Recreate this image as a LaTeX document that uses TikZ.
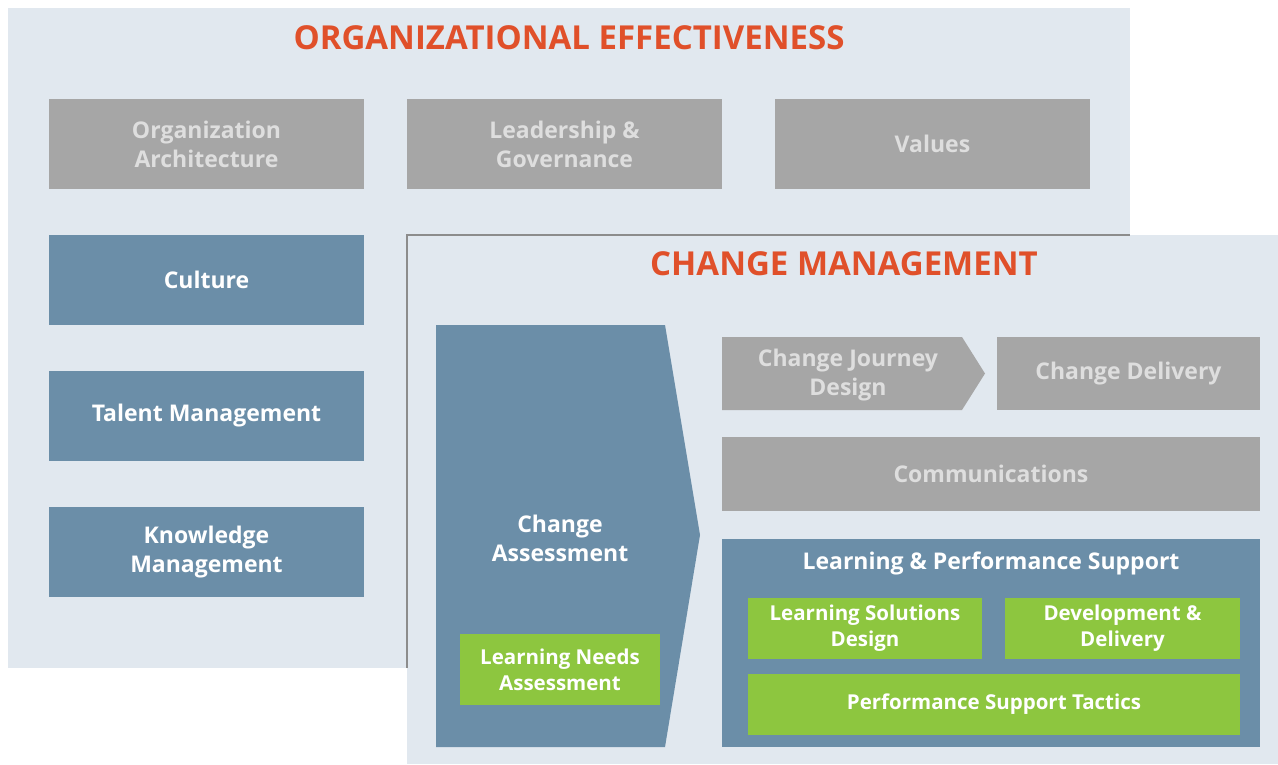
\documentclass[tikz,border=0pt]{standalone}
\usepackage{fontspec}
\setmainfont{Open Sans}
\usepackage{xcolor}
\usepackage{tikz}
\definecolor{panelbg}{RGB}{225,232,239}
\definecolor{boxgray}{RGB}{166,166,166}
\definecolor{txtgray}{RGB}{222,222,222}
\definecolor{boxblue}{RGB}{107,142,168}
\definecolor{boxgreen}{RGB}{141,198,63}
\definecolor{titleorange}{RGB}{224,80,42}
\definecolor{edgegray}{RGB}{140,140,140}

\begin{document}
\begin{tikzpicture}[x=1pt,y=-1pt,
  graybox/.style={fill=boxgray,text=txtgray,font=\fontsize{23}{29}\selectfont\bfseries,align=center,inner sep=0pt},
  bluebox/.style={fill=boxblue,text=white,font=\fontsize{23}{29}\selectfont\bfseries,align=center,inner sep=0pt},
  greenbox/.style={fill=boxgreen,text=white,font=\fontsize{20.5}{26}\selectfont\bfseries,align=center,inner sep=0pt},
  paneltitle/.style={text=titleorange,font=\fontsize{33}{38}\selectfont\bfseries}]
\useasboundingbox (0,0) rectangle (1278,764);
% panels
\fill[panelbg](8,8)rectangle(1130,668);
\fill[panelbg](407,235)rectangle(1278,764);
\draw[edgegray,line width=2pt](407,668)--(407,235)--(1130,235);
\node[paneltitle](oetitle)at(569,38){ORGANIZATIONAL EFFECTIVENESS};
\node[paneltitle](cmtitle)at(844,264){CHANGE MANAGEMENT};
% organizational effectiveness boxes
\node[graybox,minimum width=315pt,minimum height=90pt](orgarch)at(206.5,144){Organization\\Architecture};
\node[graybox,minimum width=315pt,minimum height=90pt](leader)at(564.5,144){Leadership \&\\Governance};
\node[graybox,minimum width=315pt,minimum height=90pt](values)at(932.5,144){Values};
\node[bluebox,minimum width=315pt,minimum height=90pt](culture)at(206.5,280){Culture};
\node[bluebox,minimum width=315pt,minimum height=90pt](talent)at(206.5,416){Talent Management};
\node[bluebox,minimum width=315pt,minimum height=90pt](knowledge)at(206.5,552){Knowledge\\Management};
% change management
\coordinate(Ca)at(436,325);\coordinate(Cb)at(665,325);\coordinate(Cc)at(700,535);\coordinate(Cd)at(665,747);\coordinate(Ce)at(436,747);
\fill[boxblue](Ca)--(Cb)--(Cc)--(Cd)--(Ce)--cycle;
\node[text=white,font=\fontsize{23}{29}\selectfont\bfseries,align=center](assess)at(560,538){Change\\Assessment};
\node[greenbox,minimum width=200pt,minimum height=71pt](lna)at(560,669.5){Learning Needs\\Assessment};
\coordinate(Ja)at(722,337);\coordinate(Jb)at(962,337);\coordinate(Jc)at(985,373.5);\coordinate(Jd)at(962,410);\coordinate(Je)at(722,410);
\fill[boxgray](Ja)--(Jb)--(Jc)--(Jd)--(Je)--cycle;
\node[text=txtgray,font=\fontsize{23}{29}\selectfont\bfseries,align=center](journey)at(848,375){Change Journey\\Design};
\node[graybox,minimum width=263pt,minimum height=73pt](delivery)at(1128.5,373.5){Change Delivery};
\node[graybox,minimum width=538pt,minimum height=74pt](comms)at(991,474){Communications};
\node[fill=boxblue,minimum width=538pt,minimum height=208pt,inner sep=0pt](lps)at(991,643){};
\node[text=white,font=\fontsize{23}{29}\selectfont\bfseries](lpstitle)at(991,563){Learning \& Performance Support};
\node[greenbox,minimum width=234pt,minimum height=61pt](lsd)at(865,628.5){Learning Solutions\\Design};
\node[greenbox,minimum width=235pt,minimum height=61pt](devdel)at(1122.5,628.5){Development \&\\Delivery};
\node[greenbox,minimum width=492pt,minimum height=61pt](pst)at(994,704.5){Performance Support Tactics};
\end{tikzpicture}
\end{document}
